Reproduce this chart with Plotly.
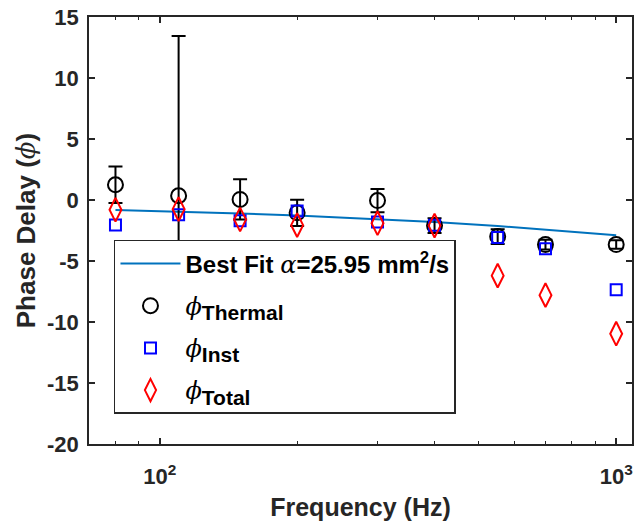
import plotly.graph_objects as go
import numpy as np

freq = [80, 110, 150, 200, 300, 400, 550, 700, 1000]
thermal = [1.25, 0.35, 0.05, -1.05, -0.05, -2.1, -3.0, -3.65, -3.65]
thermal_err = [1.5, 13.1, 1.65, 1.08, 0.95, 0.6, 0.6, 0.4, 0.35]
inst = [-2.05, -1.2, -1.7, -0.9, -1.8, -2.06, -3.07, -4.0, -7.35]
total = [-0.8, -0.75, -1.6, -2.06, -1.9, -2.1, -6.2, -7.8, -10.96]
fit = [-0.82, -0.95, -1.1, -1.27, -1.56, -1.8, -2.13, -2.42, -2.88]

y_ticks = [15, 10, 5, 0, -5, -10, -15, -20]
x_ticks = [100, 1000]
x_ticktext = ["10<sup>2</sup>", "10<sup>3</sup>"]
x_minor = [70, 80, 90, 200, 300, 400, 500, 600, 700, 800, 900]

GREEK = "font-family:'DejaVu Serif';font-style:italic;font-weight:normal"
phi = f"<span style=\"{GREEK}\">ϕ</span>"
alpha = f"<span style=\"{GREEK}\">α</span>"


def sub(t):
    return f"<sub><span style=\"font-size:21px\">{t}</span></sub>"


FONT = "Arial, Liberation Sans"
INK = "#262626"

fig = go.Figure()
fig.add_trace(go.Scatter(
    x=freq, y=fit, mode="lines", name=f"Best Fit {alpha}=25.95 mm<sup>2</sup>/s",
    legendgroup="a", line=dict(color="#0072BD", width=2)))
fig.add_trace(go.Scatter(
    x=freq, y=thermal, mode="markers", name=f"{phi}{sub('Thermal')}", legendgroup="b",
    marker=dict(symbol="circle-open", size=15, color="black", line=dict(width=2, color="black")),
    error_y=dict(type="data", array=thermal_err, visible=True, color="black", thickness=2, width=7)))
fig.add_trace(go.Scatter(
    x=freq, y=inst, mode="markers", name=f"{phi}{sub('Inst')}", legendgroup="c",
    marker=dict(symbol="square-open", size=11, color="#0000FF", line=dict(width=2, color="#0000FF"))))
fig.add_trace(go.Scatter(
    x=freq, y=total, mode="markers", name=f"{phi}{sub('Total')}", legendgroup="d",
    marker=dict(symbol="diamond-tall-open", size=17, color="#FF0000", line=dict(width=2, color="#FF0000"))))

axis_common = dict(
    showline=True, linecolor=INK, linewidth=1.5, mirror="allticks",
    ticks="inside", ticklen=6, tickwidth=1.5, tickcolor=INK,
    showgrid=False, zeroline=False,
    tickfont=dict(family=FONT, size=22, color=INK, weight="bold"),
)

fig.update_xaxes(
    type="log", range=[np.log10(70), np.log10(1083)],
    tickmode="array", tickvals=x_ticks, ticktext=x_ticktext, ticklabelstandoff=12,
    minor=dict(tickmode="array", tickvals=x_minor, ticks="inside", ticklen=3.5, tickwidth=1.2, tickcolor=INK),
    title=dict(text="Frequency (Hz)", font=dict(family=FONT, size=25, color=INK, weight="bold"), standoff=10),
    **axis_common)
fig.update_yaxes(
    range=[-20, 15], tickmode="array", tickvals=y_ticks, ticktext=[str(v) for v in y_ticks],
    ticklabelstandoff=4,
    title=dict(text=f"Phase Delay ({phi})", font=dict(family=FONT, size=26, color=INK, weight="bold"), standoff=4),
    **axis_common)

fig.update_layout(
    width=636, height=525,
    margin=dict(l=89, r=2, t=17, b=81),
    plot_bgcolor="white", paper_bgcolor="white",
    showlegend=True,
    legend=dict(
        x=0.046, y=0.478, xanchor="left", yanchor="top",
        bgcolor="white", bordercolor=INK, borderwidth=1.5,
        font=dict(family=FONT, size=24, color="black", weight="bold"),
        tracegroupgap=8, itemwidth=60,
    ),
)

fig.write_html("out.html")
